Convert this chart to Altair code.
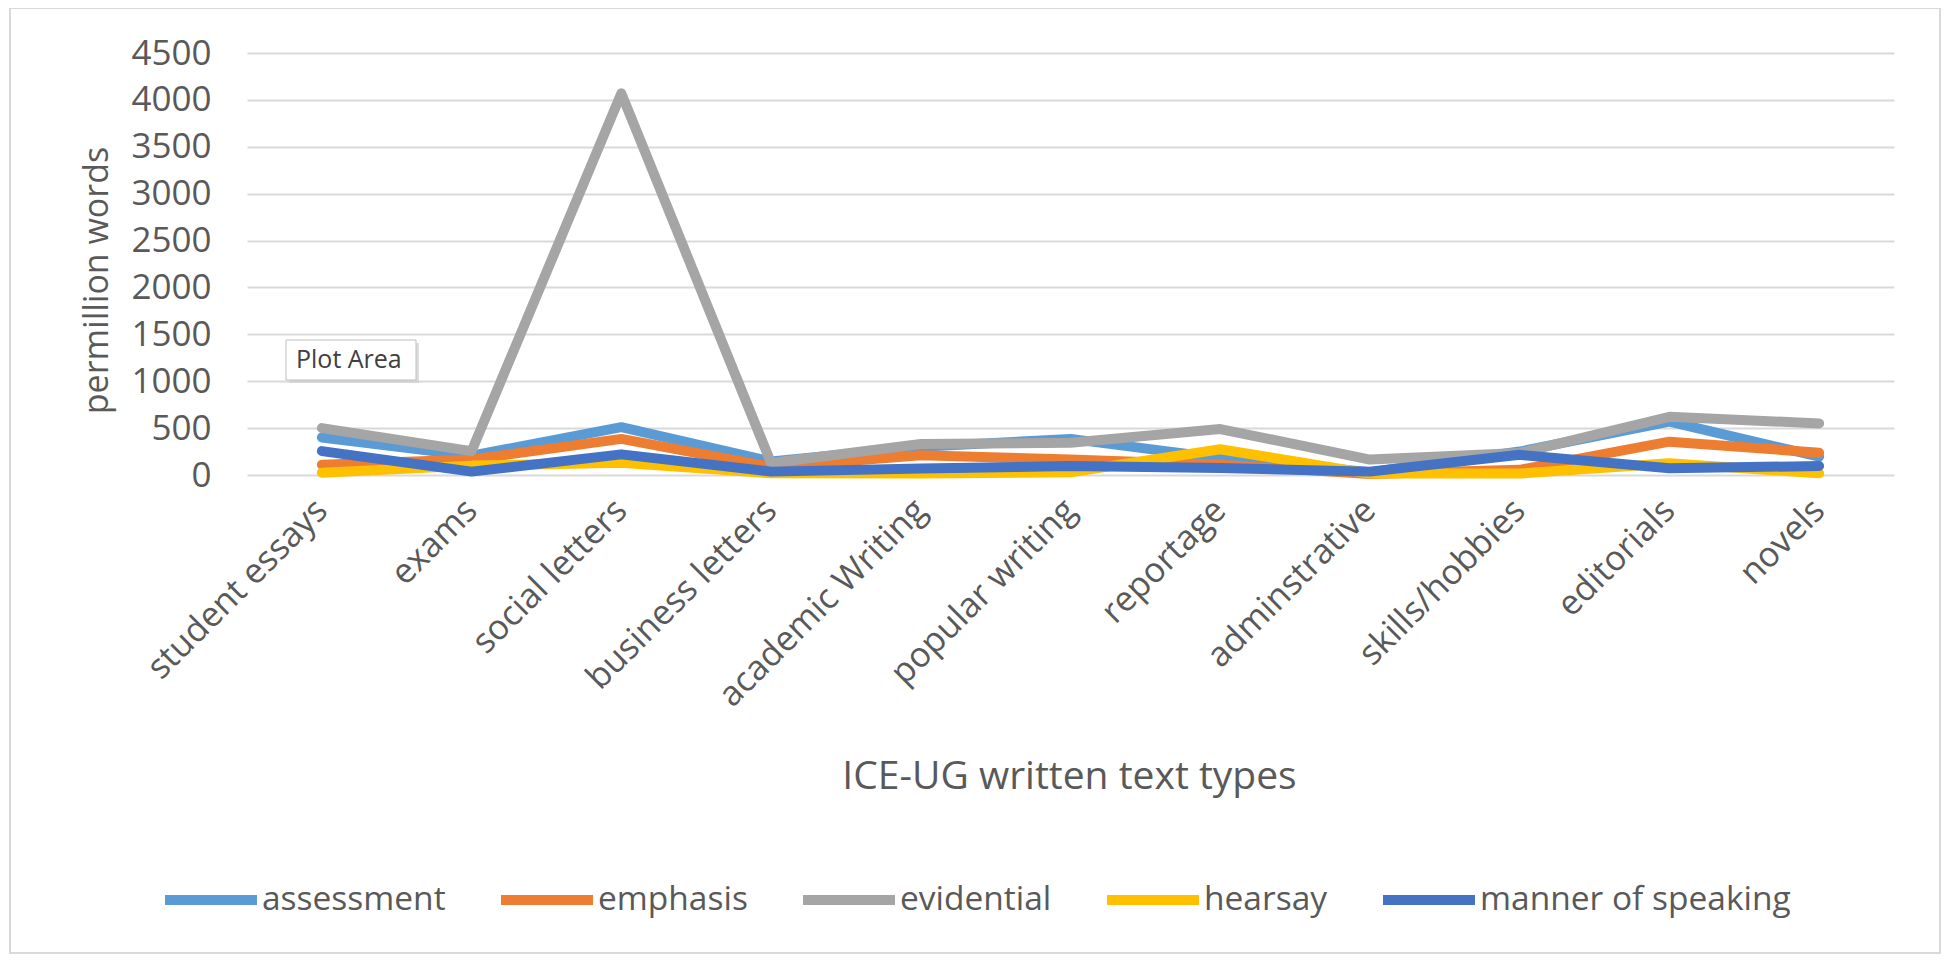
import altair as alt
import pandas as pd

categories = ["student essays", "exams", "social letters", "business letters",
              "academic Writing", "popular writing", "reportage", "adminstrative",
              "skills/hobbies", "editorials", "novels"]
series_names = ["assessment", "emphasis", "evidential", "hearsay", "manner of speaking"]
assessment = [400, 205, 510, 145, 300, 385, 180, 30, 250, 570, 195]
emphasis = [110, 165, 385, 85, 210, 165, 110, 10, 55, 355, 238]
evidential = [500, 255, 4070, 128, 330, 345, 490, 164, 235, 620, 550]
hearsay = [25, 100, 130, 18, 15, 30, 275, 15, 15, 125, 18]
manner = [255, 36, 220, 36, 70, 95, 75, 36, 215, 71, 96]
colors = ["#5B9BD5", "#ED7D31", "#A5A5A5", "#FFC000", "#4472C4"]
y_ticks = [0, 500, 1000, 1500, 2000, 2500, 3000, 3500, 4000, 4500]

rows = []
for name, vals in zip(series_names, [assessment, emphasis, evidential, hearsay, manner]):
    for i, (c, v) in enumerate(zip(categories, vals)):
        rows.append({"type": c, "value": v, "series": name, "idx": i})
df = pd.DataFrame(rows)

FONT = "Open Sans"
TXT = "#595959"

lines = alt.Chart(df).mark_line(strokeWidth=10, strokeCap="round", strokeJoin="round").encode(
    x=alt.X("type:N", sort=categories,
            scale=alt.Scale(type="point", padding=0.5),
            axis=alt.Axis(title="ICE-UG written text types", labelAngle=-45,
                          labelAlign="right", labelBaseline="middle",
                          labelPadding=30, labelFontSize=34.5, labelColor=TXT,
                          labelLimit=400, domain=False, ticks=False, grid=False,
                          titleFontSize=39, titleColor=TXT, titleFontWeight="normal",
                          titleX=822, titleY=313, titleAlign="center",
                          titleBaseline="alphabetic")),
    y=alt.Y("value:Q", scale=alt.Scale(domain=[0, 4500], nice=False),
            axis=alt.Axis(title="permillion words", values=y_ticks, format="d",
                          labelFontSize=35, labelColor=TXT, labelPadding=36,
                          domain=False, ticks=False,
                          gridColor="#D9D9D9", gridWidth=2,
                          titleFontSize=34, titleColor=TXT, titleFontWeight="normal",
                          titleX=-150, titleY=227, titleAngle=-90, titleAlign="center",
                          titleBaseline="middle")),
    color=alt.Color("series:N", scale=alt.Scale(domain=series_names, range=colors),
                    legend=alt.Legend(title=None, orient="none", legendX=-87, legendY=796,
                                      direction="horizontal", columns=5,
                                      symbolType="stroke", symbolSize=8464,
                                      symbolStrokeWidth=10, labelFontSize=33.5,
                                      labelColor=TXT, labelOffset=0, labelLimit=400,
                                      columnPadding=35, padding=0)),
    order=alt.Order("idx:Q"),
)

one = pd.DataFrame({"a": [0]})
border = alt.Chart(one).mark_rect(fillOpacity=0, stroke="#D9D9D9", strokeWidth=2).encode(
    x=alt.value(-237), x2=alt.value(1693), y=alt.value(-45), y2=alt.value(900))

shadow = alt.Chart(one).mark_rect(fill="#CFCFCF", opacity=0.7).encode(
    x=alt.value(42), x2=alt.value(172), y=alt.value(290), y2=alt.value(330))
box = alt.Chart(one).mark_rect(fill="white", stroke="#BFBFBF", strokeWidth=1).encode(
    x=alt.value(39), x2=alt.value(169), y=alt.value(287), y2=alt.value(327))
box_text = alt.Chart(one).mark_text(text="Plot Area", font=FONT, fontSize=25, color="#404040",
                                    align="left", baseline="middle").encode(
    x=alt.value(49), y=alt.value(307))

chart = alt.layer(border, lines, shadow, box, box_text).properties(
    width=1647, height=422,
    autosize=alt.AutoSizeParams(type="none"),
    padding={"left": 239, "top": 45, "right": 48, "bottom": 479},
    background="white",
).configure(font=FONT).configure_view(stroke=None)

chart.save("out.html", embed_options={"renderer": "svg", "actions": False})
